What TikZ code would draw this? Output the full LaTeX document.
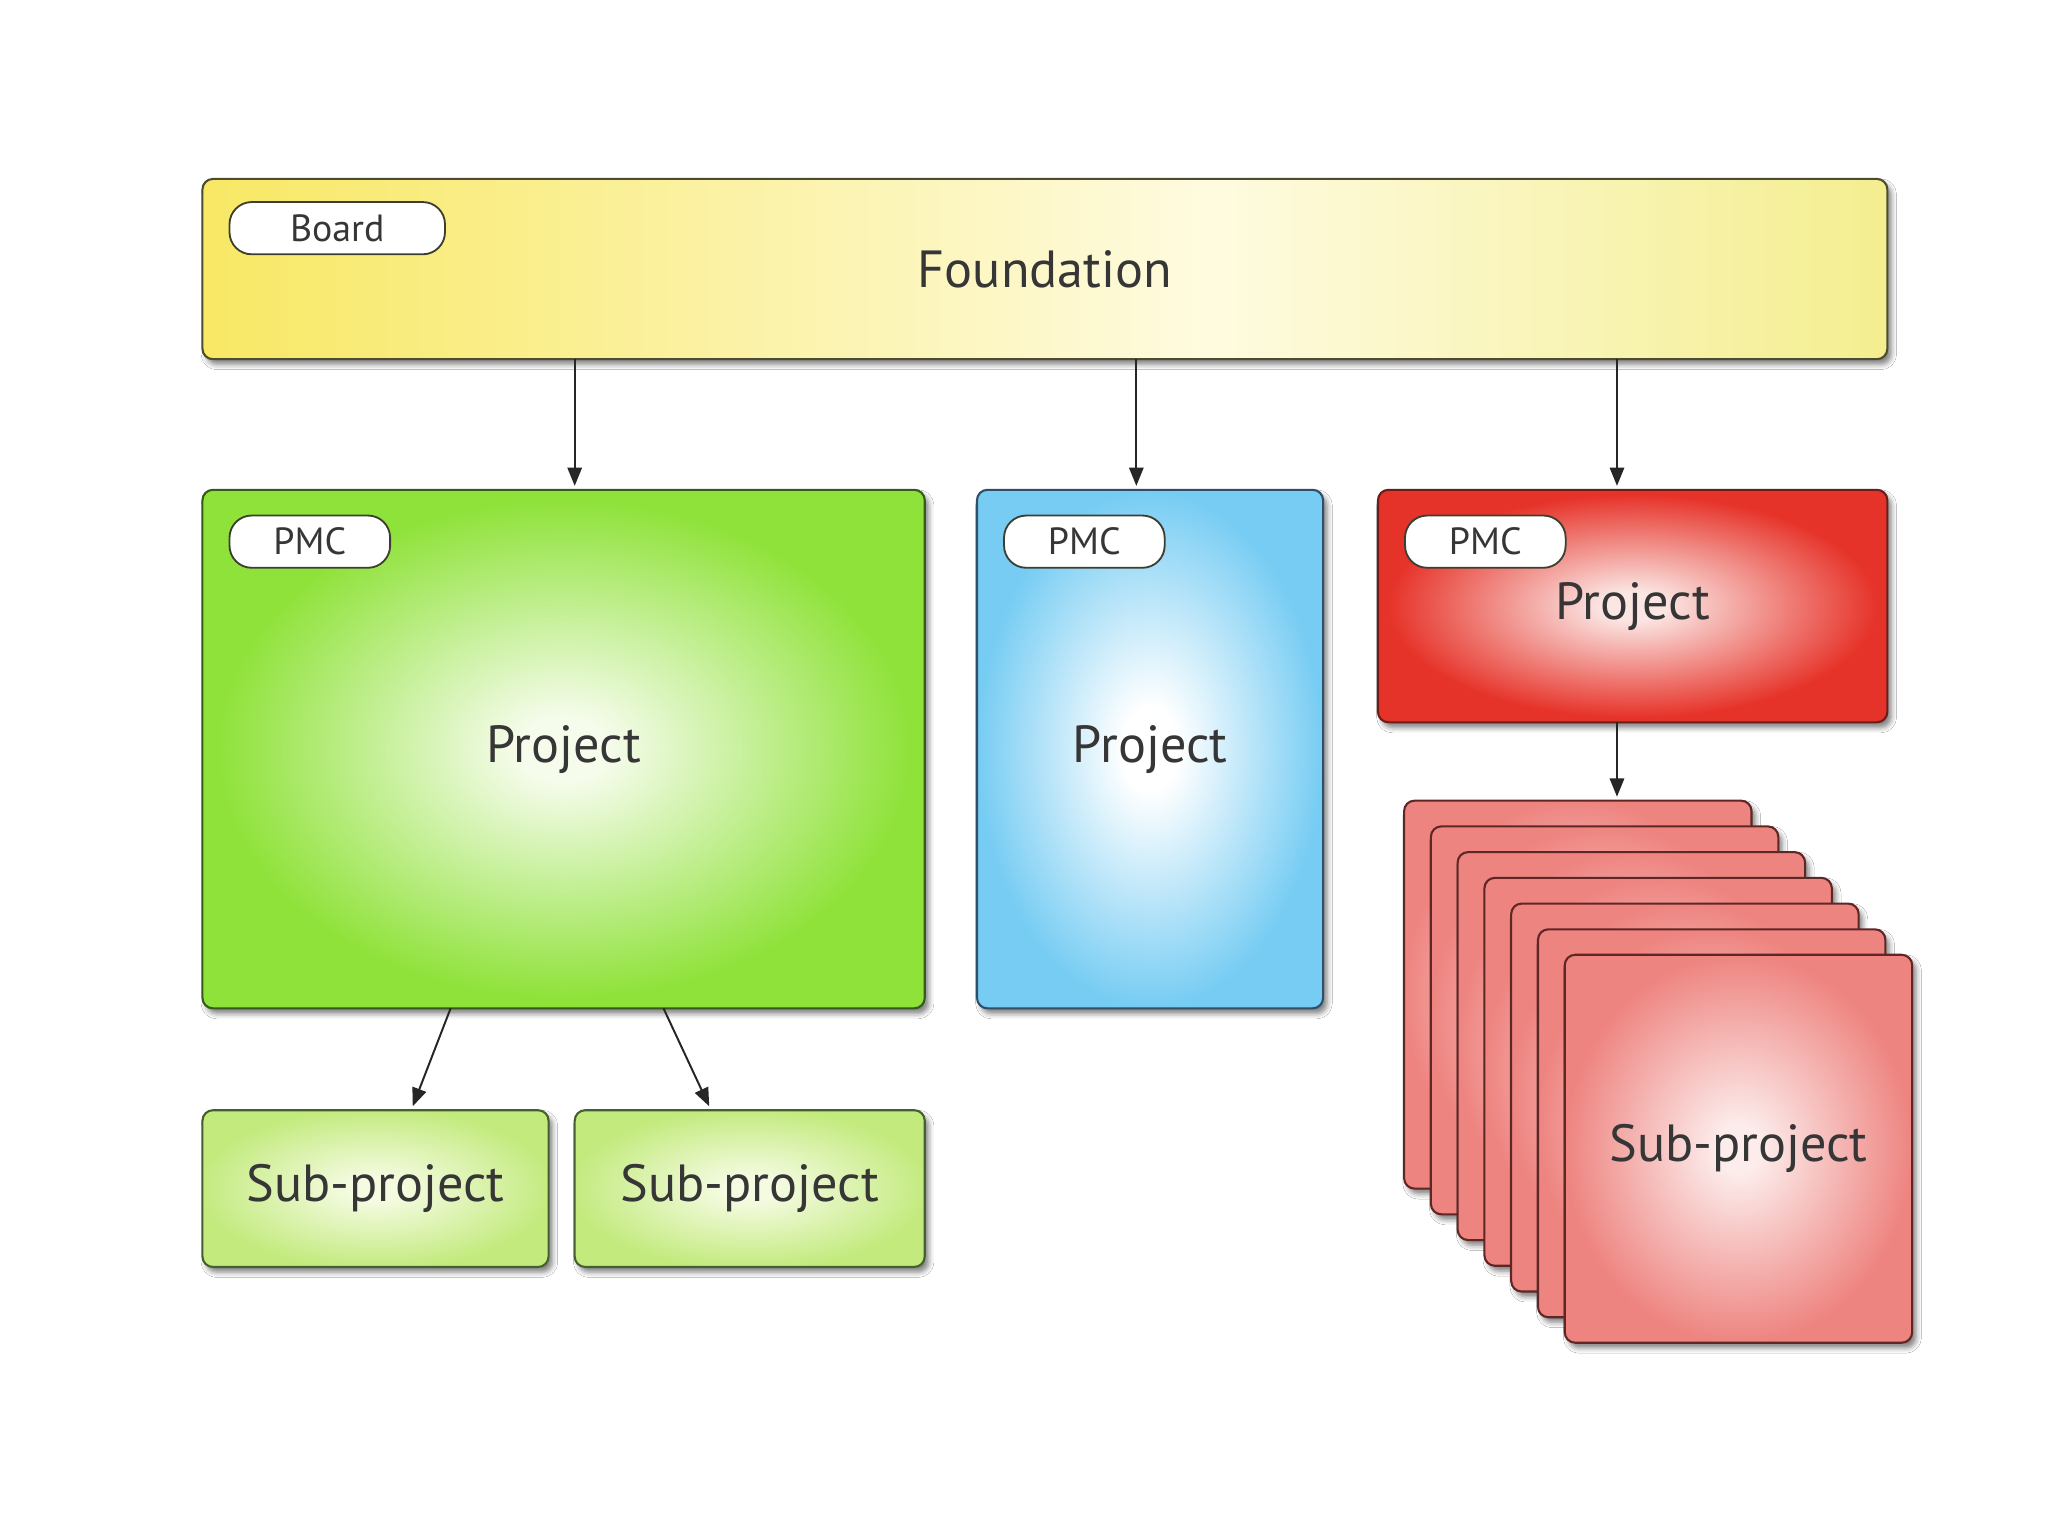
\documentclass[tikz,border=0pt]{standalone}
\usepackage{fontspec}
\setmainfont{PT Sans}
\usetikzlibrary{arrows.meta,shadows.blur,calc}
\definecolor{txt}{HTML}{363636}
\definecolor{yA}{HTML}{F8E865}
\definecolor{yB}{HTML}{FEFBE0}
\definecolor{yC}{HTML}{F4EE90}
\definecolor{yBorder}{HTML}{4E4C30}
\definecolor{gOut}{HTML}{8FE23A}
\definecolor{gIn}{HTML}{F6FCEC}
\definecolor{gBorder}{HTML}{355A1C}
\definecolor{bOut}{HTML}{76CCF3}
\definecolor{bIn}{HTML}{FFFFFF}
\definecolor{bBorder}{HTML}{2E4E6A}
\definecolor{rOut}{HTML}{E63329}
\definecolor{rIn}{HTML}{FBE6E4}
\definecolor{rBorder}{HTML}{6A1E1A}
\definecolor{sOut}{HTML}{EE8480}
\definecolor{sIn}{HTML}{FCEDEC}
\definecolor{sBorder}{HTML}{5E2624}
\definecolor{sgOut}{HTML}{C2EA7C}
\definecolor{sgIn}{HTML}{F4FBE0}
\definecolor{sgBorder}{HTML}{465F30}
\definecolor{pillB}{HTML}{3E3E30}
\pgfdeclarehorizontalshading{yelsh}{100bp}{color(0bp)=(yA); color(25bp)=(yA); color(55bp)=(yB); color(75bp)=(yC); color(100bp)=(yC)}
\pgfdeclareradialshading{greenrad}{\pgfpoint{0bp}{0bp}}{color(0bp)=(gIn); color(3bp)=(gIn); color(24bp)=(gOut); color(50bp)=(gOut)}
\pgfdeclareradialshading{bluerad}{\pgfpoint{0bp}{0bp}}{color(0bp)=(bIn); color(4bp)=(bIn); color(25bp)=(bOut); color(50bp)=(bOut)}
\pgfdeclareradialshading{redrad}{\pgfpoint{0bp}{0bp}}{color(0bp)=(rIn); color(3bp)=(rIn); color(24bp)=(rOut); color(50bp)=(rOut)}
\pgfdeclareradialshading{sheetrad}{\pgfpoint{0bp}{0bp}}{color(0bp)=(sIn); color(3bp)=(sIn); color(25bp)=(sOut); color(50bp)=(sOut)}
\pgfdeclareradialshading{subgrad}{\pgfpoint{0bp}{0bp}}{color(0bp)=(sgIn); color(4bp)=(sgIn); color(26bp)=(sgOut); color(50bp)=(sgOut)}
\tikzset{
  box/.style={shade, line width=1.6pt, rounded corners=8pt, inner sep=0pt, outer sep=0pt,
    anchor=north west, text=txt, font=\fontsize{40}{48}\selectfont,
    blur shadow={shadow xshift=3pt, shadow yshift=-4pt, shadow blur radius=4pt, shadow opacity=50}},
  pill/.style={draw=pillB, fill=white, line width=1.4pt, rounded corners=17pt, inner sep=0pt,
    anchor=north west, text=txt, font=\fontsize{29}{34}\selectfont},
  arr/.style={-{Triangle[width=11pt,length=14pt]}, line width=1.5pt, black!85},
}
\begin{document}
\begin{tikzpicture}[x=1pt,y=-1pt]
\fill[white] (0,0) rectangle (1568,1175);
\useasboundingbox (0,0) rectangle (1568,1175);
% foundation
\node[box, shading=yelsh, draw=yBorder, minimum width=1290pt, minimum height=138pt] (found) at (155,137) {Foundation};
\node[pill, minimum width=165pt, minimum height=40pt] (board) at (175,154) {Board};
% projects
\node[box, shading=greenrad, draw=gBorder, minimum width=553pt, minimum height=397pt] (green) at (155,375) {Project};
\node[pill, minimum width=123pt, minimum height=40pt] (pmcg) at (175,394) {PMC};
\node[box, shading=bluerad, draw=bBorder, minimum width=265pt, minimum height=397pt] (blue) at (748,375) {Project};
\node[pill, minimum width=123pt, minimum height=40pt] (pmcb) at (768,394) {PMC};
\node[box, shading=redrad, draw=rBorder, minimum width=390pt, minimum height=178pt] (red) at (1055,375) {Project};
\node[pill, minimum width=123pt, minimum height=40pt] (pmcr) at (1075,394) {PMC};
% green sub-projects
\node[box, shading=subgrad, draw=sgBorder, minimum width=265pt, minimum height=120pt] (sub1) at (155,850) {Sub-project};
\node[box, shading=subgrad, draw=sgBorder, minimum width=268pt, minimum height=120pt] (sub2) at (440,850) {Sub-project};
% stack of red sub-projects
\foreach \i in {0,...,5}{
  \node[box, shading=sheetrad, draw=sBorder, minimum width=266pt, minimum height=297pt] (s\i) at ({1075+20.5*\i},{613+19.7*\i}) {};
}
\node[box, shading=sheetrad, draw=sBorder, minimum width=266pt, minimum height=297pt] (s6) at (1198,731) {Sub-project};
% connectors
\coordinate (a1) at (440,0);
\coordinate (a2) at (870,0);
\coordinate (a3) at (1238,0);
\coordinate (c1) at (345,0);
\coordinate (d1) at (316,0);
\coordinate (c2) at (508,0);
\coordinate (d2) at (543,0);
\draw[arr] (found.south -| a1) -- ([yshift=3pt]green.north -| a1);
\draw[arr] (found.south -| a2) -- ([yshift=3pt]blue.north -| a2);
\draw[arr] (found.south -| a3) -- ([yshift=3pt]red.north -| a3);
\draw[arr] (red.south -| a3) -- ([yshift=3pt]s0.north -| a3);
\draw[arr] (green.south -| c1) -- ([yshift=3pt]sub1.north -| d1);
\draw[arr] (green.south -| c2) -- ([yshift=3pt]sub2.north -| d2);
\end{tikzpicture}
\end{document}
